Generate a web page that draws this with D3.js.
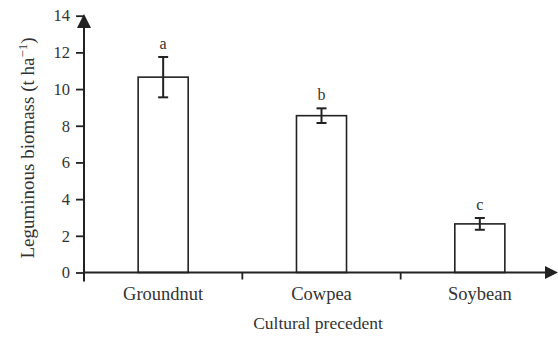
<!DOCTYPE html>
<html>
<head>
<meta charset="utf-8">
<script src="https://cdn.jsdelivr.net/npm/d3@7"></script>
<style>
  body { margin: 0; background: #fff; }
  text { font-family: "Liberation Serif", "DejaVu Serif", serif; fill: #333; }
</style>
</head>
<body>
<svg width="558" height="337"></svg>
<script>
const categories = ["Groundnut", "Cowpea", "Soybean"];
const biomass = [10.65, 8.55, 2.65];
const errors = [1.1, 0.4, 0.32];
const letters = ["a", "b", "c"];
const yTicks = [0, 2, 4, 6, 8, 10, 12, 14];

const svg = d3.select("svg");
const ink = "#222";

const x = d3.scaleBand().domain(categories).range([84, 559]).paddingInner(0.684).paddingOuter(0.342);
const y = d3.scaleLinear().domain([0, 14]).range([272.5, 15.7]);

const data = categories.map((c, i) => ({ name: c, value: biomass[i], err: errors[i], letter: letters[i] }));

// bars
svg.append("g").selectAll("rect")
    .data(data)
    .join("rect")
    .attr("x", d => x(d.name))
    .attr("y", d => y(d.value))
    .attr("width", x.bandwidth())
    .attr("height", d => y(0) - y(d.value))
    .attr("fill", "#fff")
    .attr("stroke", ink)
    .attr("stroke-width", 1.6);

// error bars
const eb = svg.append("g").attr("stroke", ink).attr("stroke-width", 2);
data.forEach(d => {
    const cx = x(d.name) + x.bandwidth() / 2;
    eb.append("line").attr("x1", cx).attr("x2", cx).attr("y1", y(d.value + d.err)).attr("y2", y(d.value - d.err));
    eb.append("line").attr("x1", cx - 5).attr("x2", cx + 5).attr("y1", y(d.value + d.err)).attr("y2", y(d.value + d.err));
    eb.append("line").attr("x1", cx - 5).attr("x2", cx + 5).attr("y1", y(d.value - d.err)).attr("y2", y(d.value - d.err));
});

// letters
svg.append("g").selectAll("text")
    .data(data)
    .join("text")
    .attr("x", d => x(d.name) + x.bandwidth() / 2)
    .attr("y", d => y(d.value + d.err) - 8)
    .attr("text-anchor", "middle")
    .style("font-size", "16px")
    .text(d => d.letter);

// y axis
const yAxis = svg.append("g")
    .attr("transform", "translate(84,0)")
    .call(d3.axisLeft(y).tickValues(yTicks).tickSize(8).tickPadding(6).tickFormat(d3.format("d")));
yAxis.select(".domain").remove();
yAxis.selectAll(".tick line").attr("stroke", ink).attr("stroke-width", 1.8);
yAxis.selectAll(".tick text")
    .style("font-size", "16.5px")
    .style("font-family", "'Liberation Serif', serif")
    .style("fill", "#333");
svg.append("line").attr("x1", 84).attr("x2", 84).attr("y1", y(0) + 9).attr("y2", 26)
    .attr("stroke", ink).attr("stroke-width", 2);
svg.append("path").attr("d", "M84,14L77,28L91,28Z").attr("fill", ink);

// x axis
svg.append("line").attr("x1", 84).attr("x2", 548).attr("y1", y(0)).attr("y2", y(0))
    .attr("stroke", ink).attr("stroke-width", 2);
svg.append("path").attr("d", `M558,${y(0)}L545,${y(0) - 6.5}L545,${y(0) + 6.5}Z`).attr("fill", ink);
const bounds = categories.slice(1).map(c => x(c) - x.step() * x.paddingInner() / 2);
svg.append("g").selectAll("line")
    .data(bounds)
    .join("line")
    .attr("x1", d => d).attr("x2", d => d)
    .attr("y1", y(0)).attr("y2", y(0) + 7)
    .attr("stroke", ink).attr("stroke-width", 1.8);

svg.append("g").selectAll("text")
    .data(categories)
    .join("text")
    .attr("x", d => x(d) + x.bandwidth() / 2)
    .attr("y", 300)
    .attr("text-anchor", "middle")
    .style("font-size", "18.5px")
    .text(d => d);

// axis titles
svg.append("text")
    .attr("x", 318).attr("y", 329)
    .attr("text-anchor", "middle")
    .style("font-size", "17.5px")
    .text("Cultural precedent");

const yt = svg.append("text")
    .attr("transform", "translate(34,148) rotate(-90)")
    .attr("text-anchor", "middle")
    .style("font-size", "19px");
yt.append("tspan").text("Leguminous biomass (t ha");
yt.append("tspan").style("font-size", "13px").attr("dy", -7).text("\u22121");
yt.append("tspan").attr("dy", 7).text(")");
</script>
</body>
</html>
